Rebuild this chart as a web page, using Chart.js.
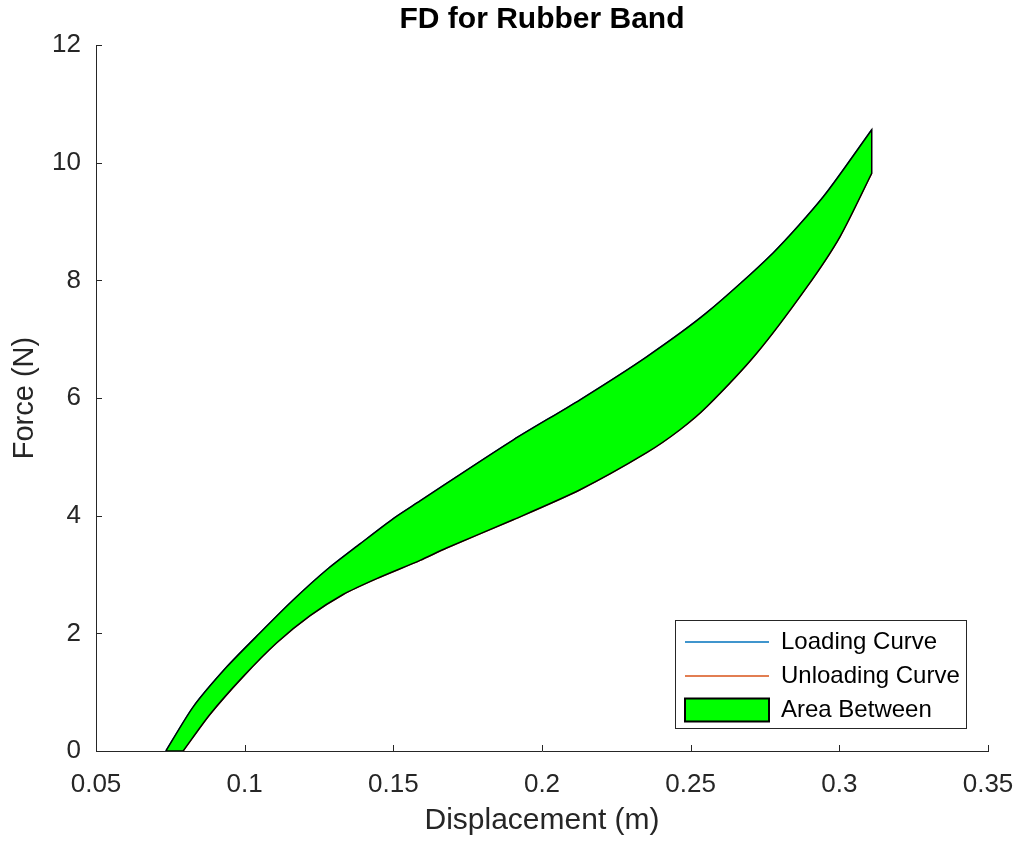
<!DOCTYPE html>
<html>
<head>
<meta charset="utf-8">
<title>FD for Rubber Band</title>
<script src="https://cdn.jsdelivr.net/npm/chart.js@4.4.1/dist/chart.umd.min.js"></script>
<style>
  html, body { margin: 0; padding: 0; background: #fff; }
</style>
</head>
<body>
<canvas id="fdChart" width="1023" height="841"></canvas>
<script>
// Loading curve (upper edge of the loop)
const loadingX = [0.0735, 0.0827, 0.0940, 0.1052, 0.1164, 0.1276, 0.1388, 0.1500, 0.1590, 0.1679, 0.1904, 0.2128, 0.2352, 0.2554, 0.2778, 0.2946, 0.3109];
const loadingY = [0, 0.75, 1.43, 2.01, 2.57, 3.08, 3.52, 3.95, 4.25, 4.55, 5.29, 5.97, 6.70, 7.45, 8.47, 9.42, 10.56];

// Unloading curve (lower edge)
const unloadingX = [0.0793, 0.0883, 0.0994, 0.1108, 0.1220, 0.1331, 0.1444, 0.1590, 0.1679, 0.1903, 0.2128, 0.2352, 0.2464, 0.2554, 0.2722, 0.2890, 0.3002, 0.3109];
const unloadingY = [0, 0.62, 1.26, 1.84, 2.30, 2.66, 2.93, 3.24, 3.45, 3.93, 4.44, 5.07, 5.46, 5.85, 6.76, 7.88, 8.74, 9.82];

const xTicks = [0.05, 0.1, 0.15, 0.2, 0.25, 0.3, 0.35];
const xTickLabels = ['0.05', '0.1', '0.15', '0.2', '0.25', '0.3', '0.35'];
const yTicks = [0, 2, 4, 6, 8, 10, 12];
const yTickLabels = ['0', '2', '4', '6', '8', '10', '12'];
const seriesNames = ['Loading Curve', 'Unloading Curve', 'Area Between'];

const axisColor = '#262626';
const fontFamily = '"Liberation Sans", Arial, Helvetica, sans-serif';
Chart.defaults.font.family = fontFamily;

const loadingPts = loadingX.map((x, i) => ({ x: x, y: loadingY[i] }));
const unloadingPts = unloadingX.map((x, i) => ({ x: x, y: unloadingY[i] }));
// closed outline: up the loading curve, back down the unloading curve.
// end points are doubled so the smoothing keeps the corners sharp
const loadEnd = loadingPts[loadingPts.length - 1];
const unloadBack = unloadingPts.slice().reverse();
const areaPts = loadingPts.concat([loadEnd, unloadBack[0]], unloadBack, [unloadBack[unloadBack.length - 1], loadingPts[0], loadingPts[0]]);

// legend frame size
const frameW = 291, frameH = 108;

// MATLAB style ticks pointing into the axes + legend moved inside the axes
const axesExtras = {
  id: 'axesExtras',
  afterLayout(chart) {
    const lg = chart.legend, ca = chart.chartArea;
    lg.left = ca.right - 22 - frameW;
    lg.right = lg.left + frameW;
    lg.top = ca.bottom - 23 - frameH;
    lg.bottom = lg.top + frameH + 60;
    lg.width = frameW;
    lg.height = frameH + 60;
  },
  afterDraw(chart) {
    const { ctx, scales: { x, y } } = chart;
    const lg = chart.legend;
    ctx.save();
    ctx.strokeStyle = axisColor;
    ctx.lineWidth = 1;
    ctx.beginPath();
    x.ticks.forEach(t => {
      const px = Math.round(x.getPixelForValue(t.value)) + 0.5;
      ctx.moveTo(px, x.top);
      ctx.lineTo(px, x.top - 6);
    });
    y.ticks.forEach(t => {
      const py = Math.round(y.getPixelForValue(t.value)) + 0.5;
      ctx.moveTo(y.right, py);
      ctx.lineTo(y.right + 6, py);
    });
    ctx.stroke();
    ctx.strokeRect(Math.round(lg.left) + 0.5, Math.round(lg.top) + 0.5, frameW, frameH);
    ctx.restore();
  }
};

const ctx = document.getElementById('fdChart').getContext('2d');
const fdChart = new Chart(ctx, {
  type: 'scatter',
  data: {
    datasets: [{
      label: seriesNames[0],
      data: loadingPts,
      showLine: true,
      borderColor: '#0072BD',
      borderWidth: 1.5,
      fill: false,
      order: 1
    }, {
      label: seriesNames[1],
      data: unloadingPts,
      showLine: true,
      borderColor: '#D95319',
      borderWidth: 1.5,
      fill: false,
      order: 2
    }, {
      label: seriesNames[2],
      data: areaPts,
      showLine: true,
      borderColor: '#000000',
      backgroundColor: '#00FF00',
      borderWidth: 1.5,
      fill: 'shape',
      order: 0
    }]
  },
  options: {
    responsive: false,
    animation: false,
    elements: { point: { radius: 0, hoverRadius: 0 }, line: { tension: 0.25 } },
    layout: { padding: { left: 0, right: 35, top: 0, bottom: 0 } },
    plugins: {
      tooltip: { enabled: false },
      title: {
        display: true,
        text: 'FD for Rubber Band',
        color: '#000',
        fullSize: false,
        font: { size: 30, weight: 'bold' },
        padding: { top: 2, bottom: 7 }
      },
      legend: {
        position: 'chartArea',
        align: 'start',
        labels: {
          usePointStyle: true,
          pointStyleWidth: 84,
          boxHeight: 23,
          padding: 10,
          color: '#000',
          font: { size: 24 },
          sort: (a, b) => a.datasetIndex - b.datasetIndex,
          generateLabels(chart) {
            const items = Chart.defaults.plugins.legend.labels.generateLabels(chart);
            items.forEach(it => {
              if (it.datasetIndex < 2) {
                it.pointStyle = 'line';
                it.lineWidth = 1.5;
              } else {
                it.pointStyle = 'rect';
                it.lineWidth = 2;
                it.fillStyle = '#00FF00';
                it.strokeStyle = '#000';
              }
            });
            return items;
          }
        }
      }
    },
    scales: {
      x: {
        type: 'linear',
        min: 0.05,
        max: 0.35,
        afterBuildTicks: s => { s.ticks = xTicks.map(v => ({ value: v })); },
        afterFit: s => { s.height = 90; s.paddingLeft = 0; s.paddingRight = 0; },
        grid: { display: false, drawTicks: false },
        border: { display: true, color: axisColor, width: 1 },
        ticks: {
          padding: 18,
          color: axisColor,
          font: { size: 26 },
          maxRotation: 0,
          callback: (v, i) => xTickLabels[i]
        },
        title: {
          display: true,
          text: 'Displacement (m)',
          color: axisColor,
          font: { size: 30 },
          padding: { top: 0, bottom: 2 }
        }
      },
      y: {
        type: 'linear',
        min: 0,
        max: 12,
        afterBuildTicks: s => { s.ticks = yTicks.map(v => ({ value: v })); },
        afterFit: s => { s.width = 96; s.paddingTop = 0; s.paddingBottom = 0; },
        grid: { display: false, drawTicks: false },
        border: { display: true, color: axisColor, width: 1 },
        ticks: {
          padding: 15,
          color: axisColor,
          font: { size: 26 },
          callback: (v, i) => yTickLabels[i]
        },
        title: {
          display: true,
          text: 'Force (N)',
          color: axisColor,
          font: { size: 29 },
          padding: { top: 8, bottom: 0 }
        }
      }
    }
  },
  plugins: [axesExtras]
});
</script>
</body>
</html>
